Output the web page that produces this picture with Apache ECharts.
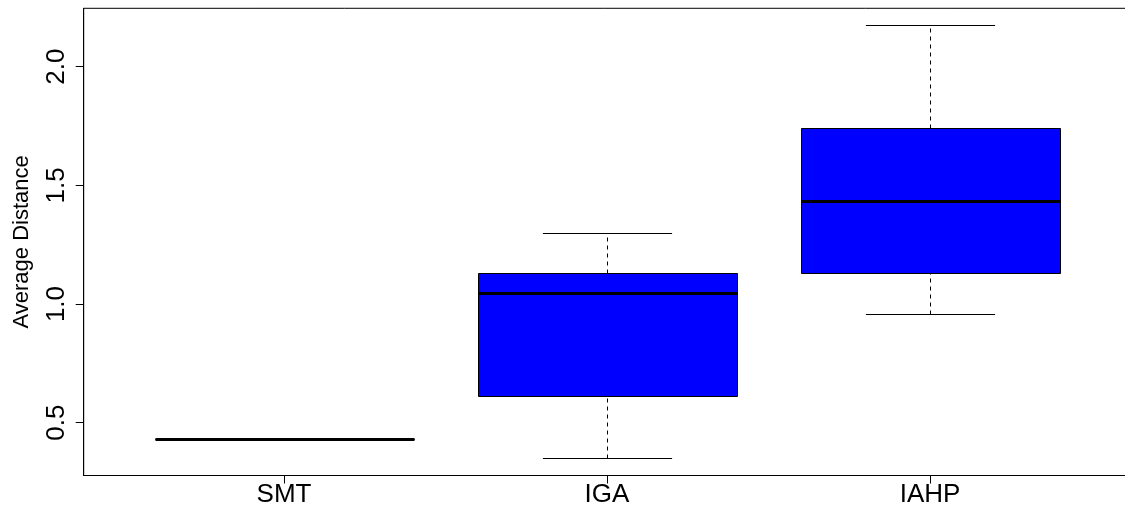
<!DOCTYPE html>
<html>
<head>
<meta charset="utf-8">
<script src="https://cdn.jsdelivr.net/npm/echarts@6/dist/echarts.min.js"></script>
<style>
html,body{margin:0;padding:0;background:#fff;}
#chart{width:1125px;height:513px;}
</style>
</head>
<body>
<div id="chart"></div>
<script>
// Data
var categories = ['SMT', 'IGA', 'IAHP'];
var lowWhisker = [0.430, 0.350, 0.958];
var q1Values = [0.430, 0.612, 1.129];
var medianValues = [0.430, 1.046, 1.435];
var q3Values = [0.430, 1.132, 1.740];
var highWhisker = [0.430, 1.300, 2.174];
var yTicks = [0.5, 1.0, 1.5, 2.0];
var xPositions = [1, 2, 3];

var boxData = categories.map(function (c, i) {
  return [xPositions[i], lowWhisker[i], q1Values[i], medianValues[i], q3Values[i], highWhisker[i]];
});

var chart = echarts.init(document.getElementById('chart'), null, {renderer: 'canvas'});
var FONT = 'Liberation Sans, Arial, Helvetica, sans-serif';

function snap(v) { return Math.round(v) + 0.5; }

function renderBox(params, api) {
  var x = api.value(0);
  var lo = api.value(1), q1 = api.value(2), md = api.value(3), q3 = api.value(4), hi = api.value(5);
  var halfBox = api.size([0.8, 0])[0] / 2;
  var halfCap = api.size([0.4, 0])[0] / 2;
  var pLo = api.coord([x, lo]), pQ1 = api.coord([x, q1]), pMd = api.coord([x, md]);
  var pQ3 = api.coord([x, q3]), pHi = api.coord([x, hi]);
  var cx = snap(pMd[0]);
  var yLo = snap(pLo[1]), yQ1 = snap(pQ1[1]), yQ3 = snap(pQ3[1]), yHi = snap(pHi[1]);
  var xL = snap(cx - halfBox), xR = snap(cx + halfBox);
  var thin = {stroke: '#000', lineWidth: 1, fill: null};
  var dashed = {stroke: '#000', lineWidth: 1, lineDash: [4, 4], fill: null};
  return {
    type: 'group',
    children: [
      {type: 'line', shape: {x1: cx, y1: yLo, x2: cx, y2: yQ1}, style: dashed},
      {type: 'line', shape: {x1: cx, y1: yQ3, x2: cx, y2: yHi}, style: dashed},
      {type: 'line', shape: {x1: cx - halfCap, y1: yLo, x2: cx + halfCap, y2: yLo}, style: thin},
      {type: 'line', shape: {x1: cx - halfCap, y1: yHi, x2: cx + halfCap, y2: yHi}, style: thin},
      {type: 'rect', shape: {x: xL, y: yQ3, width: xR - xL, height: yQ1 - yQ3},
        style: {fill: '#0000FF', stroke: '#000', lineWidth: 1}},
      {type: 'line', shape: {x1: xL, y1: Math.round(pMd[1]) + 0.5, x2: xR, y2: Math.round(pMd[1]) + 0.5},
        style: {stroke: '#000', lineWidth: 3, lineCap: 'butt'}}
    ]
  };
}

var option = {
  backgroundColor: '#fff',
  animation: false,
  grid: {
    left: 83.7, top: 8.3, width: 1046.6, height: 467.2,
    outerBoundsMode: 'none', containLabel: false,
    show: true, borderColor: '#000', borderWidth: 1, backgroundColor: 'transparent'
  },
  xAxis: {
    type: 'value', min: 0.3799, max: 3.6201,
    axisLine: {show: true, lineStyle: {color: '#000', width: 1}},
    axisTick: {show: true, length: 8, customValues: xPositions, lineStyle: {color: '#000'}},
    axisLabel: {
      show: true, customValues: xPositions, margin: 6,
      color: '#000', fontSize: 26, fontFamily: FONT,
      formatter: function (v) { return categories[Math.round(v) - 1] || ''; }
    },
    splitLine: {show: false}
  },
  yAxis: {
    type: 'value', min: 0.2775, max: 2.246,
    name: 'Average Distance', nameLocation: 'middle', nameRotate: 90, nameGap: 51,
    nameTextStyle: {color: '#000', fontSize: 22, fontFamily: FONT},
    axisLine: {show: true, lineStyle: {color: '#000', width: 1}},
    axisTick: {show: true, length: 8, customValues: yTicks, lineStyle: {color: '#000'}},
    axisLabel: {
      show: true, customValues: yTicks, rotate: 90, margin: 14,
      color: '#000', fontSize: 26, fontFamily: FONT,
      formatter: function (v) { return v.toFixed(1); }
    },
    splitLine: {show: false}
  },
  series: [{
    type: 'custom',
    renderItem: renderBox,
    encode: {x: 0, y: [1, 2, 3, 4, 5]},
    data: boxData,
    clip: false
  }]
};
chart.setOption(option);
</script>
</body>
</html>
